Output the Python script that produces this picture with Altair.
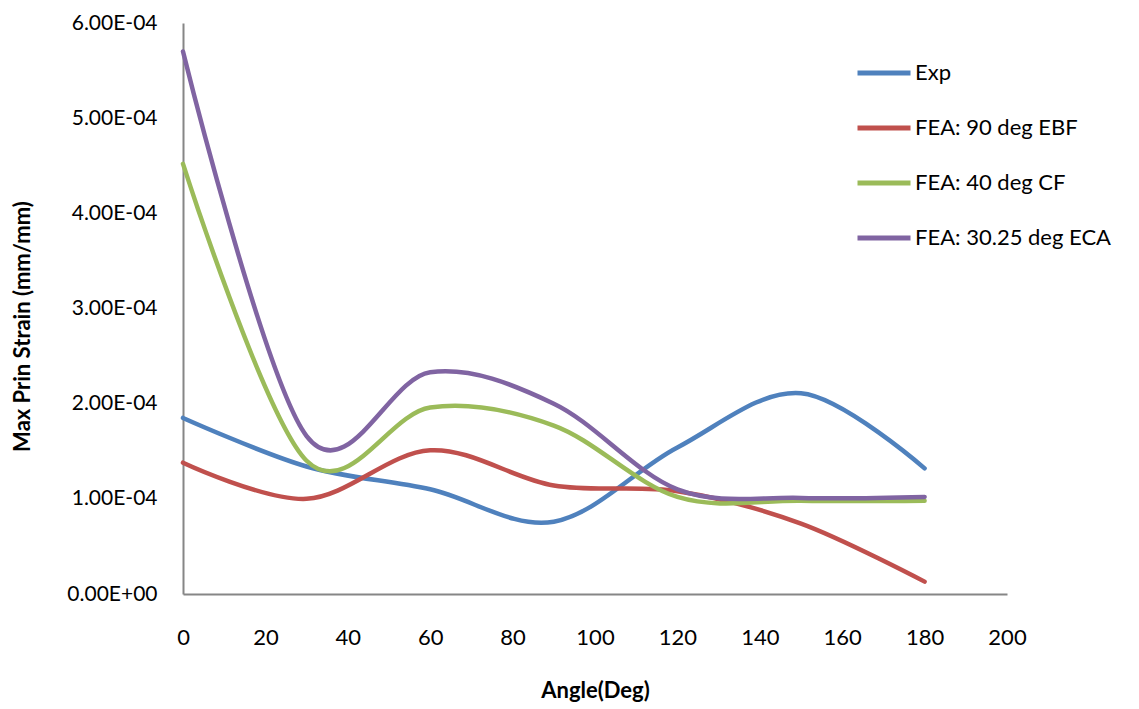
import altair as alt
import pandas as pd

angles = [0, 30, 60, 90, 120, 150, 180]
series_names = ["Exp", "FEA: 90 deg EBF", "FEA: 40 deg CF", "FEA: 30.25 deg ECA"]
exp_vals = [1.85e-4, 1.34e-4, 1.10e-4, 0.76e-4, 1.54e-4, 2.11e-4, 1.32e-4]
ebf_vals = [1.38e-4, 1.00e-4, 1.51e-4, 1.14e-4, 1.08e-4, 0.74e-4, 0.13e-4]
cf_vals = [4.52e-4, 1.40e-4, 1.96e-4, 1.77e-4, 1.02e-4, 0.98e-4, 0.98e-4]
eca_vals = [5.70e-4, 1.66e-4, 2.33e-4, 2.00e-4, 1.10e-4, 1.01e-4, 1.02e-4]
colors = ["#4F81BD", "#C0504D", "#9BBB59", "#8064A2"]
x_ticks = [0, 20, 40, 60, 80, 100, 120, 140, 160, 180, 200]
y_ticks = [0, 1e-4, 2e-4, 3e-4, 4e-4, 5e-4, 6e-4]

rows = []
for name, vals in zip(series_names, [exp_vals, ebf_vals, cf_vals, eca_vals]):
    for a, v in zip(angles, vals):
        rows.append({"angle": a, "strain": v, "series": name})
df = pd.DataFrame(rows)

chart = alt.Chart(df).mark_line(
    interpolate="cardinal", tension=0, strokeWidth=4.5, strokeCap="round"
).encode(
    x=alt.X("angle:Q",
            scale=alt.Scale(domain=[0, 200], nice=False),
            axis=alt.Axis(values=x_ticks, title="Angle(Deg)", grid=False, ticks=False,
                          domainColor="#868686", domainWidth=2,
                          labelFont="Lato", labelFontSize=22, labelColor="#000000",
                          labelPadding=33, labelFlush=False, labelOverlap=False,
                          titleFont="Lato", titleFontSize=22, titleFontWeight="bold",
                          titleColor="#000000", titleX=412, titleY=96,
                          titleBaseline="middle", titleAlign="center")),
    y=alt.Y("strain:Q",
            scale=alt.Scale(domain=[0, 6e-4], nice=False),
            axis=alt.Axis(values=y_ticks, title="Max Prin Strain (mm/mm)", grid=False,
                          ticks=False, domainColor="#868686", domainWidth=2,
                          labelExpr="datum.value == 0 ? '0.00E+00' : format(datum.value*10000, '.2f') + 'E-04'",
                          labelFont="Lato", labelFontSize=21, labelColor="#000000",
                          labelPadding=26, labelFlush=False, labelOverlap=False,
                          titleFont="Lato", titleFontSize=22, titleFontWeight="bold",
                          titleColor="#000000", titleX=-161, titleY=303, titleAngle=270,
                          titleBaseline="middle", titleAlign="center")),
    color=alt.Color("series:N",
                    scale=alt.Scale(domain=series_names, range=colors),
                    sort=series_names,
                    legend=alt.Legend(title=None, orient="none", legendX=672, legendY=21,
                                      symbolType="stroke", symbolSize=2809,
                                      symbolStrokeWidth=5, labelFont="Lato",
                                      labelFontSize=22, labelColor="#000000",
                                      labelLimit=400,
                                      labelOffset=2, rowPadding=15)),
).properties(
    width=824, height=571,
    autosize=alt.AutoSizeParams(type="none"),
    padding={"left": 175, "top": 15, "right": 116, "bottom": 110},
).configure_view(stroke=None)

chart.save("out.html", embed_options={"renderer": "svg", "actions": False})
